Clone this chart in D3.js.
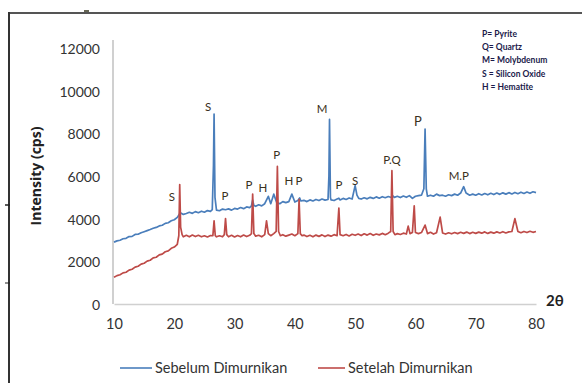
<!DOCTYPE html>
<html><head><meta charset="utf-8">
<script src="https://cdn.jsdelivr.net/npm/d3@7"></script>
<style>
html,body{margin:0;padding:0;background:#fff;}
svg{display:block;font-family:Lato, "Open Sans", sans-serif;}
</style></head>
<body><svg id="c" width="582" height="383"></svg>
<script>
// ---- data ----
const xTicks = [10,20,30,40,50,60,70,80];
const yTicks = [0,2000,4000,6000,8000,10000,12000];
const seriesNames = ["Sebelum Dimurnikan","Setelah Dimurnikan"];
const seriesColors = ["#4a7ebb","#be4b48"];
const sebelum = [
[10,2900],[10.5,2960],[11,2990],[11.5,3060],[12,3080],[12.5,3160],[13,3170],[13.5,3260],[14,3270],[14.5,3340],
[15,3390],[15.5,3440],[16,3490],[16.5,3550],[17,3590],[17.5,3660],[18,3690],[18.5,3780],[19,3810],[19.5,3900],
[20,3950],[20.5,4060],[21,4280],[21.5,4200],[22,4240],[22.5,4300],[23,4250],[23.5,4330],[24,4280],[24.5,4350],
[25,4300],[25.5,4380],[26,4340],[26.3,4420],[26.5,6500],[26.6,8900],[26.75,5000],[27,4400],[27.5,4370],[28,4450],
[28.5,4420],[29,4460],[29.5,4400],[30,4480],[30.5,4450],[31,4520],[31.5,4470],[32,4550],[32.5,4520],[32.8,4600],
[33,4870],[33.2,4620],[33.5,4580],[34,4650],[34.5,4600],[35,4700],[35.6,5050],[36,4700],[36.5,5150],[37,4750],
[37.5,4700],[38,4800],[38.5,4750],[39,4800],[39.5,5150],[40,4780],[40.5,4850],[40.8,4970],[41,4830],[41.5,4860],
[42,4800],[42.5,4880],[43,4830],[43.5,4900],[44,4850],[44.5,4920],[45,4870],[45.5,4900],[45.65,6000],[45.75,8650],
[45.9,5000],[46,4880],[46.5,4850],[47,4920],[47.3,4960],[47.5,4880],[48,4950],[48.5,4900],[49,4970],[49.5,4920],
[50,5550],[50.3,5100],[50.6,4950],[51,4920],[51.5,4980],[52,4930],[52.5,5000],[53,4950],[53.5,5020],[54,4960],
[54.5,5030],[55,4980],[55.5,5040],[56,4990],[56.2,5080],[56.5,5000],[57,5050],[57.5,4990],[58,5060],[58.5,5000],
[59,5080],[59.5,4950],[60,5050],[60.5,5080],[61,5100],[61.4,5400],[61.6,8200],[61.8,5400],[62,5050],[62.5,5100],
[63,5050],[63.5,5150],[64,5080],[64.5,5100],[65,5050],[65.5,5120],[66,5080],[66.5,5150],[67,5100],[67.5,5200],
[68,5500],[68.4,5200],[69,5100],[69.5,5150],[70,5100],[70.5,5170],[71,5110],[71.5,5180],[72,5120],[72.5,5190],
[73,5130],[73.5,5200],[74,5140],[74.5,5210],[75,5150],[75.5,5220],[76,5160],[76.5,5230],[77,5170],[77.5,5240],
[78,5180],[78.5,5250],[79,5190],[79.5,5260],[80,5220]
];
const setelah = [
[10,1250],[10.5,1330],[11,1370],[11.5,1460],[12,1490],[12.5,1590],[13,1630],[13.5,1730],[14,1770],[14.5,1870],
[15,1910],[15.5,2010],[16,2050],[16.5,2160],[17,2190],[17.5,2300],[18,2340],[18.5,2450],[19,2490],[19.5,2610],
[20,2670],[20.5,2800],[20.75,3200],[20.9,5600],[21.05,3600],[21.3,3250],[21.5,3150],[22,3220],[22.5,3150],[23,3230],
[23.5,3160],[24,3220],[24.5,3150],[25,3200],[25.5,3140],[26,3210],[26.4,3200],[26.6,3900],[26.8,3200],[27,3150],
[27.5,3200],[28,3150],[28.3,3250],[28.5,4000],[28.7,3250],[29,3150],[29.5,3220],[30,3140],[30.5,3210],[31,3150],
[31.5,3230],[32,3160],[32.5,3220],[32.8,3300],[33,5150],[33.2,3300],[33.5,3180],[34,3220],[34.5,3150],[35,3250],
[35.3,3900],[35.6,3300],[36,3200],[36.5,3300],[36.9,3400],[37.1,6450],[37.3,3400],[37.6,3200],[38,3250],[38.5,3180],
[39,3230],[39.5,3280],[40,3200],[40.5,3300],[40.7,4900],[40.9,3300],[41.2,3200],[41.5,3230],[42,3160],[42.5,3220],
[43,3150],[43.5,3230],[44,3170],[44.5,3240],[45,3160],[45.5,3230],[46,3180],[46.5,3250],[47,3200],[47.3,4500],
[47.5,3250],[48,3200],[48.5,3260],[49,3190],[49.5,3270],[50,3220],[50.5,3280],[51,3210],[51.5,3290],[52,3230],
[52.5,3300],[53,3220],[53.5,3280],[54,3240],[54.5,3310],[55,3250],[55.5,3320],[55.9,3400],[56.1,6250],[56.3,3400],
[56.6,3250],[57,3300],[57.5,3260],[58,3320],[58.5,3280],[58.8,3650],[59.1,3300],[59.5,3350],[59.8,4600],[60,3350],
[60.5,3300],[61,3350],[61.6,3700],[62,3300],[62.5,3360],[63,3280],[63.5,3340],[64.1,4070],[64.5,3330],[65,3280],
[65.5,3340],[66,3290],[66.5,3350],[67,3300],[67.5,3360],[68,3310],[68.5,3370],[69,3300],[69.5,3360],[70,3310],
[70.5,3370],[71,3320],[71.5,3380],[72,3310],[72.5,3370],[73,3320],[73.5,3380],[74,3330],[74.5,3390],[75,3330],
[75.5,3380],[76,3400],[76.5,4000],[77,3400],[77.5,3340],[78,3400],[78.5,3350],[79,3410],[79.5,3360],[80,3400]
];
const peakLabels = ["S","S","P","P","H","P","H","P","M","P","S","P.Q","P","M.P"];
const peakLabelX = [19.6,25.6,28.4,32.4,34.7,37.0,39.0,40.7,44.5,47.3,50.0,56.1,60.4,67.2];
const peakLabelY = [5010,9230,5060,5570,5430,6980,5760,5760,9130,5570,5760,6740,8570,6000];
const keyLines = ["P= Pyrite","Q= Quartz","M= Molybdenum","S = Silicon Oxide","H = Hematite"];

// ---- chart ----
const svg = d3.select("#c");
const x = d3.scaleLinear().domain([10,80]).range([114,536]);
const y = d3.scaleLinear().domain([0,12000]).range([304,48]);

// outer frame (partial border)
svg.append("line").attr("x1",8).attr("x2",582).attr("y1",13).attr("y2",13).attr("stroke","#555").attr("stroke-width",2);
svg.append("line").attr("x1",9).attr("x2",9).attr("y1",12).attr("y2",383).attr("stroke","#333").attr("stroke-width",2);
svg.append("line").attr("x1",5).attr("x2",10).attr("y1",205).attr("y2",205).attr("stroke","#222").attr("stroke-width",1.5);
svg.append("line").attr("x1",5).attr("x2",10).attr("y1",283).attr("y2",283).attr("stroke","#222").attr("stroke-width",1);
svg.append("line").attr("x1",84).attr("x2",89).attr("y1",11).attr("y2",11).attr("stroke","#665").attr("stroke-width",2);

// axes
const xAxis = svg.append("g").attr("transform","translate(0,304)")
  .call(d3.axisBottom(x).tickValues(xTicks).tickSize(0).tickPadding(15).tickFormat(d3.format("d")));
xAxis.select(".domain").attr("stroke","#d0d0d0").attr("stroke-width",1.5);
xAxis.selectAll("text").attr("font-size",14.5).attr("fill","#333").attr("font-family","Lato, sans-serif");

const yAxis = svg.append("g").attr("transform","translate(113,0)")
  .call(d3.axisLeft(y).tickValues(yTicks).tickSize(0).tickPadding(13).tickFormat(d3.format("d")));
yAxis.select(".domain").attr("stroke","#d0d0d0").attr("stroke-width",2).attr("d","M0,40V304");
yAxis.selectAll("text").attr("font-size",14).attr("fill","#333").attr("font-family","Lato, sans-serif").attr("dy","0.4em");

// axis titles
svg.append("text").attr("transform","translate(41,176) rotate(-90)").attr("text-anchor","middle")
  .attr("font-family","'Open Sans', sans-serif")
  .attr("font-size",14).attr("font-weight","bold").attr("fill","#222").text("Intensity (cps)");
svg.append("text").attr("x",546).attr("y",306).attr("font-size",15).attr("font-weight","bold").attr("fill","#222").text("2θ");

// lines
const line = d3.line().x(d=>x(d[0])).y(d=>y(d[1]));
[sebelum,setelah].forEach((s,i)=>{
  svg.append("path").datum(s).attr("d",line).attr("fill","none")
    .attr("stroke",seriesColors[i]).attr("stroke-width",1.7).attr("stroke-linejoin","round");
});

// peak labels
svg.selectAll("text.pk").data(peakLabels).join("text").attr("class","pk")
  .attr("x",(d,i)=>x(peakLabelX[i])).attr("y",(d,i)=>y(peakLabelY[i]))
  .attr("text-anchor","middle").attr("dy","0.35em")
  .attr("font-size",(d,i)=>i===12?13:11.5).attr("fill","#3a3020").text(d=>d);

// key text
svg.selectAll("text.key").data(keyLines).join("text").attr("class","key")
  .attr("x",482).attr("y",(d,i)=>37+i*13.2)
  .attr("font-size",8.5).attr("font-weight","bold").attr("fill","#1a1a4a").text(d=>d);

// legend
const lg = [[120,155],[318,348]];
seriesNames.forEach((n,i)=>{
  svg.append("line").attr("x1",lg[i][0]).attr("x2",lg[i][1]-3).attr("y1",368).attr("y2",368)
    .attr("stroke",seriesColors[i]).attr("stroke-width",1.6);
  svg.append("text").attr("x",lg[i][1]).attr("y",373).attr("font-size",14.5).attr("fill","#333").text(n);
});
</script>
</body></html>
